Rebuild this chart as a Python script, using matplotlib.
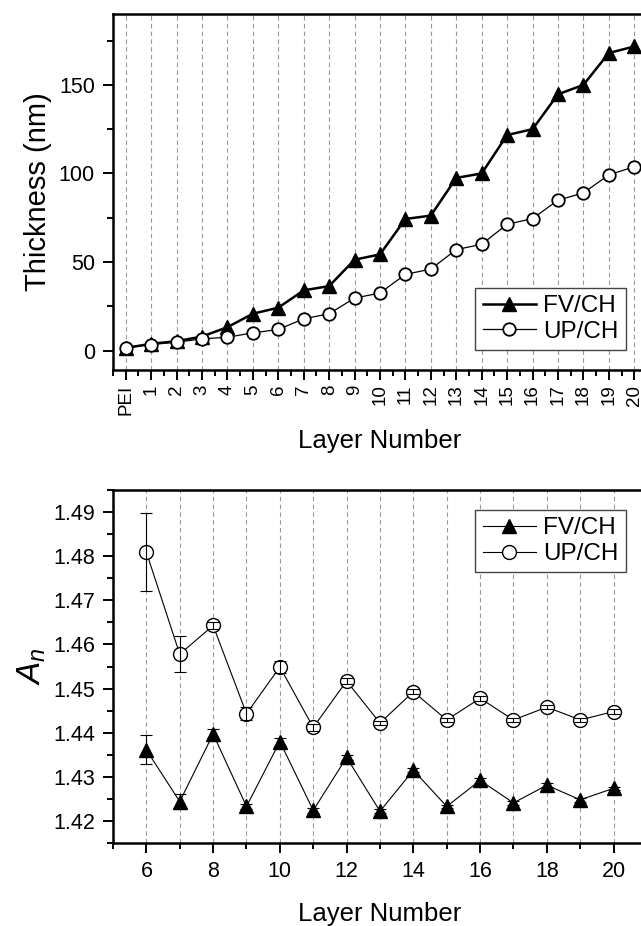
import matplotlib
matplotlib.use('Agg')
import matplotlib.pyplot as plt
from matplotlib.ticker import MultipleLocator, FormatStrFormatter
import numpy as np

plt.rcParams['font.family'] = ['Liberation Sans', 'DejaVu Sans']
plt.rcParams['mathtext.fontset'] = 'custom'
plt.rcParams['mathtext.it'] = 'Liberation Sans:italic'
plt.rcParams['mathtext.rm'] = 'Liberation Sans'

#%% data - top panel (thickness)
layers = np.arange(0, 21)
layer_labels = ['PEI'] + [str(i) for i in range(1, 21)]
fv_thick = [1.5, 3.8, 5.3, 7.9, 13.2, 20.8, 24.2, 34.0, 36.4, 51.3, 54.3,
            74.3, 76.2, 97.5, 100.0, 121.7, 125.0, 144.7, 150.0, 168.0, 171.7]
up_thick = [1.5, 3.4, 4.7, 6.6, 7.5, 10.0, 11.9, 17.9, 20.8, 29.6, 32.5,
            43.0, 46.0, 57.0, 60.0, 71.3, 74.5, 84.9, 89.0, 99.2, 103.8]

#%% data - bottom panel (A_n)
layer_n = np.arange(6, 21)
fv_an = [1.4361, 1.4244, 1.4397, 1.4233, 1.4380, 1.4224, 1.4344, 1.4222,
         1.4315, 1.4233, 1.4292, 1.4241, 1.4281, 1.4248, 1.4274]
fv_err = [0.0033, 0.0017, 0.0012, 0.0006, 0.0009, 0.0006, 0.0005, 0.0004,
          0.0005, 0.0004, 0.0005, 0.0004, 0.0005, 0.0004, 0.0004]
up_an = [1.4809, 1.4578, 1.4643, 1.4443, 1.4549, 1.4412, 1.4517, 1.4422,
         1.4493, 1.4429, 1.4478, 1.4429, 1.4458, 1.4429, 1.4448]
up_err = [0.0088, 0.0041, 0.0009, 0.0015, 0.0013, 0.0008, 0.0006, 0.0005,
          0.0006, 0.0005, 0.0006, 0.0004, 0.0005, 0.0004, 0.0005]

#%% figure
fig = plt.figure(figsize=(6.41, 9.26), dpi=100)
ax1 = fig.add_axes([0.1763, 0.6004, 0.833, 0.3844])
ax2 = fig.add_axes([0.1763, 0.0896, 0.833, 0.3812])

grid_kw = dict(color='#9a9a9a', linestyle=(0, (4, 3)), linewidth=0.8)

for ax in (ax1, ax2):
    for s in ax.spines.values():
        s.set_linewidth(1.8)
    ax.tick_params(which='major', direction='out', length=7, width=1.4, labelsize=15.5)
    ax.tick_params(which='minor', direction='out', length=4, width=1.4)
    ax.tick_params(axis='y', which='major', pad=6)
    ax.set_axisbelow(True)

# top
ax1.plot(layers, fv_thick, color='black', lw=1.8, marker='^', ms=10,
         mfc='black', mec='black', label='FV/CH', zorder=3)
ax1.plot(layers, up_thick, color='black', lw=0.9, marker='o', ms=9,
         mfc='white', mec='black', mew=1.3, label='UP/CH', zorder=3)
ax1.set_xlim(-0.5, 20.5)
ax1.set_ylim(-11, 190)
ax1.set_xticks(layers)
ax1.set_xticklabels(layer_labels, rotation=90)
ax1.tick_params(axis='x', which='major', labelsize=13.5)
ax1.xaxis.set_minor_locator(MultipleLocator(0.5))
ax1.yaxis.set_major_locator(MultipleLocator(50))
ax1.yaxis.set_minor_locator(MultipleLocator(25))
ax1.grid(axis='x', which='major', **grid_kw)
ax1.set_xlabel('Layer Number', fontsize=18.5, labelpad=10)
ax1.set_ylabel('Thickness (nm)', fontsize=21, labelpad=5)
leg1 = ax1.legend(loc='lower right', bbox_to_anchor=(0.961, 0.056), borderaxespad=0,
                  fontsize=17.5, handlelength=2.2, handletextpad=0.3, labelspacing=0.15,
                  borderpad=0.3, fancybox=False, framealpha=1, edgecolor='#444444')
leg1.get_frame().set_linewidth(1.0)

# bottom
ax2.plot(layer_n, fv_an, color='black', lw=0.8, marker='^', ms=10,
         mfc='black', mec='black', label='FV/CH', zorder=3)
ax2.plot(layer_n, up_an, color='black', lw=0.8, marker='o', ms=10,
         mfc='white', mec='black', mew=1.0, label='UP/CH', zorder=3)
ax2.errorbar(layer_n, fv_an, yerr=fv_err, fmt='none', ecolor='black',
             elinewidth=0.8, capsize=4, capthick=0.8, zorder=4)
ax2.errorbar(layer_n, up_an, yerr=up_err, fmt='none', ecolor='black',
             elinewidth=0.8, capsize=4, capthick=0.8, zorder=4)
ax2.set_xlim(5, 21)
ax2.set_ylim(1.415, 1.495)
ax2.xaxis.set_major_locator(MultipleLocator(2))
ax2.xaxis.set_minor_locator(MultipleLocator(1))
ax2.yaxis.set_major_locator(MultipleLocator(0.01))
ax2.yaxis.set_minor_locator(MultipleLocator(0.005))
ax2.yaxis.set_major_formatter(FormatStrFormatter('%.2f'))
ax2.tick_params(axis='x', which='major', pad=6)
ax2.grid(axis='x', which='both', **grid_kw)
ax2.set_xlabel('Layer Number', fontsize=18.5, labelpad=14)
ax2.set_ylabel('$A_n$', fontsize=24, labelpad=4)
leg2 = ax2.legend(loc='upper right', bbox_to_anchor=(0.961, 0.943), borderaxespad=0,
                  fontsize=17.5, handlelength=2.2, handletextpad=0.3, labelspacing=0.15,
                  borderpad=0.3, fancybox=False, framealpha=1, edgecolor='#444444')
leg2.get_frame().set_linewidth(1.0)

fig.savefig('out.png', dpi=100)
